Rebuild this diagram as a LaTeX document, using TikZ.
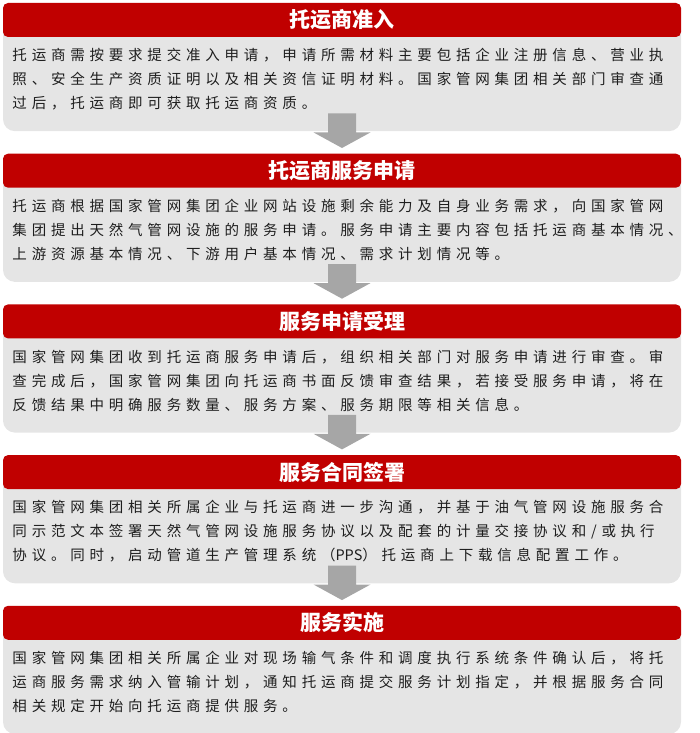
\documentclass[tikz,border=0pt]{standalone}
\usepackage{fontspec}
\newfontfamily\cjk{Noto Sans CJK SC}
\newfontfamily\cjktext{Noto Sans CJK SC}[LetterSpace=33]
\usetikzlibrary{positioning,calc}
\definecolor{hdrred}{RGB}{192,0,0}
\definecolor{boxgray}{RGB}{229,229,229}
\definecolor{flowgray}{RGB}{166,166,166}
\definecolor{txtgray}{RGB}{30,30,30}

\begin{document}
\begin{tikzpicture}[
			x=1pt, y=-1pt,
			box/.style={anchor=north, fill=boxgray, rounded corners=12pt, minimum width=678pt, minimum height=111pt, inner sep=0pt},
			hdr/.style={fill=hdrred, rounded corners=5pt, minimum width=678pt, minimum height=34pt, inner sep=0pt, text=white, font=\cjk\bfseries\fontsize{21}{21}\selectfont},
			txt/.style={anchor=base west, align=left, inner sep=0pt, text=txtgray, font=\cjktext\fontsize{14.5}{24}\selectfont},
			flow/.style={fill=flowgray}
		]
		\useasboundingbox (0,0) rectangle (700,733);

		\node[box] (b1) at (342,20) {};
		\node[hdr] (h1) at (b1.north) {托运商准入};
		\node[txt] (t1) at ($(h1.south west)+(9.5,71.5)$) {托运商需按要求提交准入申请，申请所需材料主要包括企业注册信息、营业执\\照、安全生产资质证明以及相关资信证明材料。国家管网集团相关部门审查通\\过后，托运商即可获取托运商资质。};

		\node[box, below=39.3pt of b1] (b2) {};
		\node[hdr] (h2) at (b2.north) {托运商服务申请};
		\node[txt] (t2) at ($(h2.south west)+(9.5,71.5)$) {托运商根据国家管网集团企业网站设施剩余能力及自身业务需求，向国家管网\\集团提出天然气管网设施的服务申请。服务申请主要内容包括托运商基本情况、\\上游资源基本情况、下游用户基本情况、需求计划情况等。};

		\node[box, below=39.3pt of b2] (b3) {};
		\node[hdr] (h3) at (b3.north) {服务申请受理};
		\node[txt] (t3) at ($(h3.south west)+(9.5,71.5)$) {国家管网集团收到托运商服务申请后，组织相关部门对服务申请进行审查。审\\查完成后，国家管网集团向托运商书面反馈审查结果，若接受服务申请，将在\\反馈结果中明确服务数量、服务方案、服务期限等相关信息。};

		\node[box, below=39.3pt of b3] (b4) {};
		\node[hdr] (h4) at (b4.north) {服务合同签署};
		\node[txt] (t4) at ($(h4.south west)+(9.5,71.5)$) {国家管网集团相关所属企业与托运商进一步沟通，并基于油气管网设施服务合\\同示范文本签署天然气管网设施服务协议以及配套的计量交接协议和/或执行\\协议。同时，启动管道生产管理系统（{\cjk PPS}）托运商上下载信息配置工作。};

		\node[box, below=39.3pt of b4] (b5) {};
		\node[hdr] (h5) at (b5.north) {服务实施};
		\node[txt] (t5) at ($(h5.south west)+(9.5,71.5)$) {国家管网集团相关所属企业对现场输气条件和调度执行系统条件确认后，将托\\运商服务需求纳入管输计划，通知托运商提交服务计划指定，并根据服务合同\\相关规定开始向托运商提供服务。};

		% block arrows between the stages
		\foreach \from/\to in {b1/h2,b2/h3,b3/h4,b4/h5}
		\fill[flow] ($(\from.south)+(-14,-18)$) -- ($(\from.south)+(14,-18)$) -- ($(\from.south)+(14,1)$) -- ($(\from.south)+(28.5,1)$) -- ($(\to.north)+(0,-5.5)$) -- ($(\from.south)+(-28.5,1)$) -- ($(\from.south)+(-14,1)$) -- cycle;
	\end{tikzpicture}
\end{document}
